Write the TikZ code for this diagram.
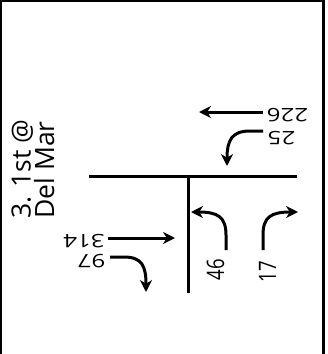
\documentclass[tikz,border=0pt]{standalone}
\usepackage{fontspec}
\setmainfont{Open Sans}
\usetikzlibrary{arrows.meta}
\begin{document}
\begin{tikzpicture}[x=1pt,y=-1pt,
  road/.style={line width=3pt},
  flow/.style={line width=3pt,-{Stealth[length=12pt,width=12pt]}},
  num/.style={font=\fontsize{18.5}{18.5}\selectfont,inner sep=0pt,xscale=1.3},
  frame/.style={line width=2.4pt}]
\useasboundingbox (0,0) rectangle (328,354);
% frame
\draw[frame] (1,0) -- (1,354);
\draw[frame] (0,1.2) -- (325,1.2);
\draw[line width=3pt] (323.4,0) -- (323.4,354);
% title
\node[rotate=90,align=left,inner sep=0pt,font=\fontsize{26.5}{23.5}\selectfont] (title) at (33,169) {3. 1st @\\Del Mar};
% roads
\coordinate (rw) at (89,176);
\coordinate (re) at (297,176);
\coordinate (rt) at (188,176);
\coordinate (rb) at (188,293);
\draw[road] (rw) -- (re);
\draw[road] (rt) -- (rb);
% labels
\node[num,rotate=180] (n226) at (287.5,115) {226};
\node[num,rotate=180] (n25) at (281.5,138.5) {25};
\node[num,rotate=180] (n314) at (84,241) {314};
\node[num,rotate=180] (n97) at (91.5,261.5) {97};
\node[num,rotate=90] (n46) at (215.5,269.5) {46};
\node[num,rotate=90] (n17) at (267.5,271.5) {17};
% arrows
\coordinate (a226s) at (263,112);
\coordinate (a226e) at (199,112);
\draw[flow] (a226s) -- (a226e);
\coordinate (a25s) at (263,131);
\coordinate (a25e) at (227,166);
\draw[flow] (a25s) -- (250,131) .. controls (232,131) and (227,140) .. (a25e);
\coordinate (a314s) at (108,238);
\coordinate (a314e) at (175,238);
\draw[flow] (a314s) -- (a314e);
\coordinate (a97s) at (110,257);
\coordinate (a97e) at (146,292);
\draw[flow] (a97s) -- (124,257) .. controls (142,257) and (146,266) .. (a97e);
\coordinate (a46s) at (226,250);
\coordinate (a46e) at (191,212);
\draw[flow] (a46s) -- (226,235) .. controls (226,217) and (218,212) .. (a46e);
\coordinate (a17s) at (263,250);
\coordinate (a17e) at (298,212);
\draw[flow] (a17s) -- (263,235) .. controls (263,217) and (271,212) .. (a17e);
\end{tikzpicture}
\end{document}
